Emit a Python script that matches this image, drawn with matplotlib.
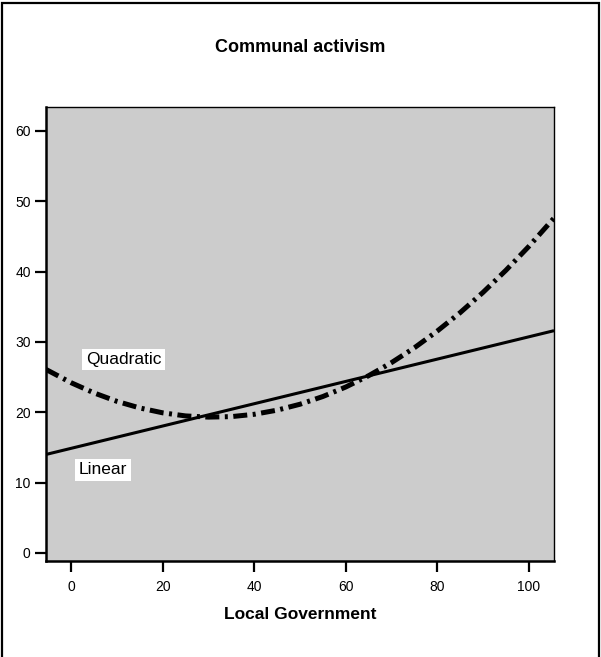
import matplotlib.pyplot as plt
from matplotlib.patches import Rectangle

plt.rcParams['font.family'] = ['Liberation Sans', 'DejaVu Sans']

# Fitted curves for communal activism against local government score
linear_x = [-5.5, 105.5]
linear_y = [14.0, 31.6]

quad_x = [-5.5, 0, 5, 10, 15, 20, 25, 30, 35, 40, 45, 50,
          55, 60, 65, 70, 75, 80, 85, 90, 95, 100, 105.5]
quad_y = [26.09, 24.20, 22.75, 21.55, 20.61, 19.92, 19.48, 19.31, 19.38,
          19.71, 20.30, 21.14, 22.24, 23.59, 25.20, 27.06, 29.17, 31.55,
          34.17, 37.05, 40.19, 43.58, 47.61]

x_ticks = [0, 20, 40, 60, 80, 100]
y_ticks = [0, 10, 20, 30, 40, 50, 60]

fig = plt.figure(figsize=(6.01, 6.57), dpi=100)
ax = fig.add_axes([0.0765, 0.1461, 0.8453, 0.691])
ax.set_facecolor('#cccccc')

ax.plot(linear_x, linear_y, color='black', lw=2.2, solid_capstyle='butt')
ax.plot(quad_x, quad_y, color='black', lw=3.6,
        linestyle=(0, (2.8, 1.1, 0.6, 1.1)))

box = dict(facecolor='white', edgecolor='none', pad=2.5)
ax.text(3.2, 27.5, 'Quadratic', fontsize=12.5, va='center', ha='left', bbox=box)
ax.text(1.7, 11.8, 'Linear', fontsize=12.5, va='center', ha='left', bbox=box)

ax.set_xlim(-5.5, 105.5)
ax.set_ylim(-1.15, 63.4)
ax.set_xticks(x_ticks)
ax.set_yticks(y_ticks)
ax.tick_params(axis='both', length=8, width=1.6, labelsize=10, direction='out')
ax.tick_params(axis='x', pad=6)
ax.tick_params(axis='y', pad=3)

for side in ['top', 'right']:
    ax.spines[side].set_linewidth(1.0)
for side in ['left', 'bottom']:
    ax.spines[side].set_linewidth(1.8)

ax.set_xlabel('Local Government', fontsize=12.5, fontweight='bold', labelpad=9)
fig.text(0.4992, 1 - 48 / 657, 'Communal activism', fontsize=13,
         fontweight='bold', ha='center', va='center')

# outer frame round the whole chart, open at the bottom edge
fig.patches.append(Rectangle((2 / 601, -0.05), 597 / 601, 1.05 - 3 / 657,
                             transform=fig.transFigure, fill=False,
                             edgecolor='black', lw=1.6))

fig.savefig('out.png', dpi=100)
